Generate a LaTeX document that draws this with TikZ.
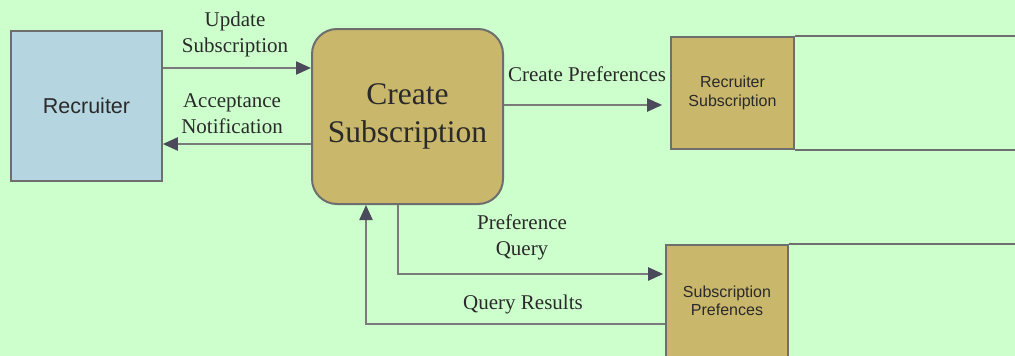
\documentclass[tikz,border=0pt]{standalone}
\usepackage{fontspec}
\setmainfont{Liberation Serif}
\setsansfont{Liberation Sans}
\usetikzlibrary{arrows.meta}
\definecolor{bgc}{HTML}{CCFFCC}
\definecolor{tanc}{HTML}{C9B76C}
\definecolor{bluec}{HTML}{B5D6E0}
\definecolor{edgec}{HTML}{6E6E6E}
\definecolor{linec}{HTML}{7A7A7A}
\definecolor{tipc}{HTML}{4B4A5A}
\definecolor{txtc}{HTML}{2A2A2A}
\tikzset{
  extbox/.style={draw=edgec, line width=1.6pt, fill=bluec, minimum width=151pt, minimum height=150pt, inner sep=0pt, font=\sffamily\fontsize{21.5}{26}\selectfont, text=txtc},
  procbox/.style={draw=edgec, line width=2pt, fill=tanc, rounded corners=25pt, minimum width=191pt, minimum height=175pt, inner sep=0pt, align=center, font=\fontsize{31.5}{38}\selectfont, text=txtc},
  storebox/.style={draw=edgec, line width=1.6pt, fill=tanc, inner sep=0pt, align=center, font=\sffamily\fontsize{16}{18.5}\selectfont, text=txtc},
  storeline/.style={draw=edgec, line width=1.6pt},
  flow/.style={draw=linec, line width=2.2pt, -{Triangle[length=15pt, width=13pt, color=tipc]}},
  flowlabel/.style={align=center, inner sep=0pt, font=\fontsize{21}{26}\selectfont, text=txtc},
}
\begin{document}
\begin{tikzpicture}[x=1pt, y=-1pt]
\useasboundingbox[fill=bgc] (0,0) rectangle (1015,356);
\begin{scope}
\clip (0,0) rectangle (1015,356);
% nodes
\node[extbox] (rec) at (86.5,106) {Recruiter};
\node[procbox] (cs) at (407.5,116.5) {Create\\Subscription};
\node[storebox, minimum width=123pt, minimum height=112pt] (rs) at (732.5,93) {Recruiter\\Subscription};
\draw[storeline] (rs.north east) -- ++(240,0);
\draw[storeline] (rs.south east) -- ++(240,0);
\node[storebox, minimum width=122pt, minimum height=130pt] (sp) at (727,310) {};
\node[font=\sffamily\fontsize{16}{18.5}\selectfont, text=txtc, align=center, inner sep=0pt] (sptxt) at (727,301) {Subscription\\Prefences};
\draw[storeline] (sp.north east) -- ++(240,0);
% connectors
\coordinate (cpend) at ([xshift=-8pt]rs.west |- 0,105);
\coordinate (pqend) at ([xshift=-2pt]sp.west |- 0,274);
\draw[flow] (rec.east |- 0,68) -- (cs.west |- 0,68);
\draw[flow] (cs.west |- 0,144) -- (rec.east |- 0,144);
\draw[flow] (cs.east |- 0,105) -- (cpend);
\draw[flow] (cs.south -| 398,0) |- (pqend);
\draw[flow] (sp.west |- 0,324) -| (cs.south -| 366,0);
% labels
\node[flowlabel] (l1) at (235,34) {Update\\Subscription};
\node[flowlabel] (l2) at (232,114) {Acceptance\\Notification};
\node[flowlabel] (l3) at (587,74) {Create Preferences};
\node[flowlabel] (l4) at (522,237) {Preference\\Query};
\node[flowlabel] (l5) at (523,304) {Query Results};
\end{scope}
\end{tikzpicture}
\end{document}
